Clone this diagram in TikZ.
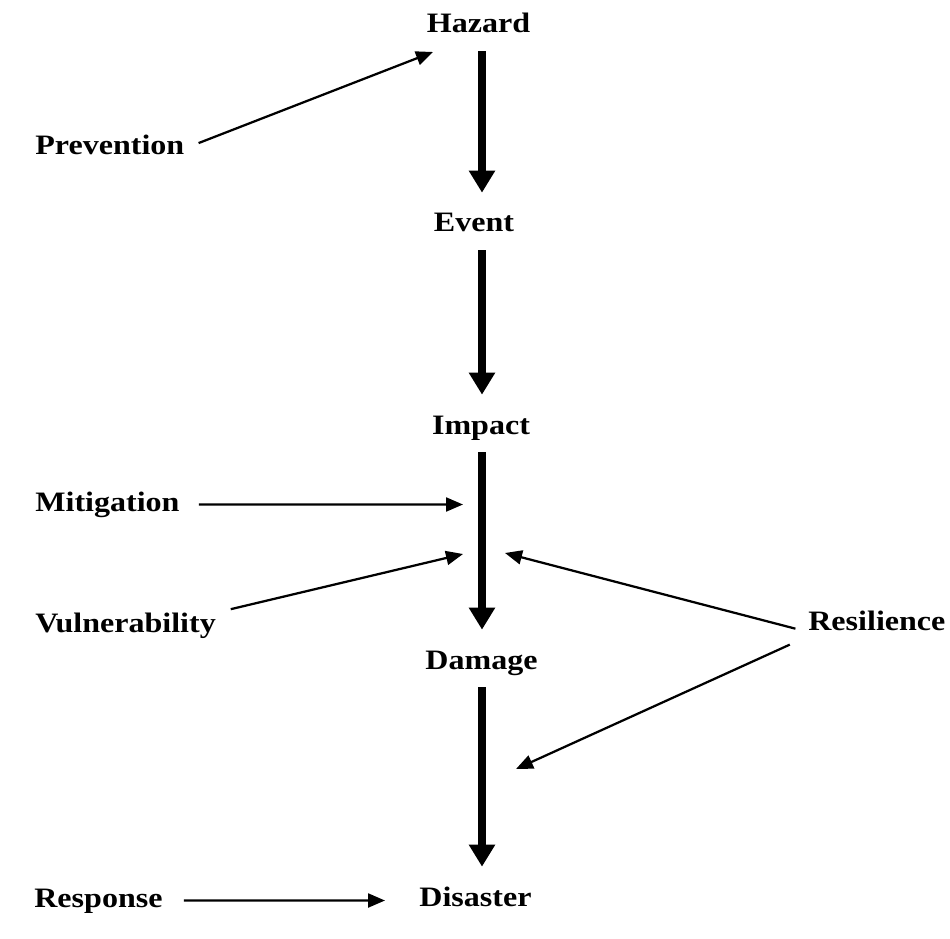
\documentclass[tikz,border=0pt]{standalone}
\usepackage{fontspec}
\setmainfont[FakeStretch=1.14]{Liberation Serif}
\usetikzlibrary{arrows.meta,positioning}

\begin{document}
\begin{tikzpicture}[
    x=0.02cm, y=-0.02cm,
    term/.style={font=\fontsize{16}{19}\selectfont\bfseries,inner sep=0pt,text height=0.38cm,text depth=0.12cm},
    chain/.style={-{Triangle[length=0.44cm,width=0.5cm]},line width=0.16cm,shorten <=0.24cm,shorten >=0.4cm},
    side/.style={-{Triangle[length=0.34cm,width=0.28cm]},line width=0.045cm,shorten <=0.3cm}
]
\useasboundingbox (0,0) rectangle (950,939);

% Main chain
\node[term, anchor=base] (hazard) at (478.5,33) {Hazard};
\node[term, anchor=base] (event) at (474,232) {Event};
\node[term, anchor=base] (impact) at (481,434) {Impact};
\node[term, anchor=base] (damage) at (481.5,669) {Damage};
\node[term, anchor=base] (disaster) at (475.5,906) {Disaster};

% Side factors
\node[term, anchor=base west] (prevention) at (35,155) {Prevention};
\node[term, anchor=base west] (mitigation) at (35,511) {Mitigation};
\node[term, anchor=base west] (vulnerability) at (35,632) {Vulnerability};
\node[term, anchor=base west] (resilience) at (808,630) {Resilience};
\node[term, anchor=base west] (response) at (34,907) {Response};

% Arrow ends
\coordinate (spine) at (482,0);
\coordinate (hz-in) at (433,52);
\coordinate (mit-in) at (463,504.5);
\coordinate (vul-in) at (463,554);
\coordinate (res-in1) at (505,553);
\coordinate (res-in2) at (516,769);
\coordinate (dis-in) at (385,900.5);

% Connections
\draw[chain] (spine |- hazard.south) -- (spine |- event.north);
\draw[chain] (spine |- event.south) -- (spine |- impact.north);
\draw[chain] (spine |- impact.south) -- (spine |- damage.north);
\draw[chain] (spine |- damage.south) -- (spine |- disaster.north);

\draw[side] (prevention.east) -- (hz-in);
\draw[side, shorten <=0.38cm] (mitigation.east) -- (mit-in);
\draw[side] (vulnerability.north east) -- (vul-in);
\draw[side, shorten <=0.26cm] (resilience.187) -- (res-in1);
\draw[side, shorten <=0.4cm] (resilience.south west) -- (res-in2);
\draw[side, shorten <=0.42cm] (response.east) -- (dis-in);

\end{tikzpicture}
\end{document}
